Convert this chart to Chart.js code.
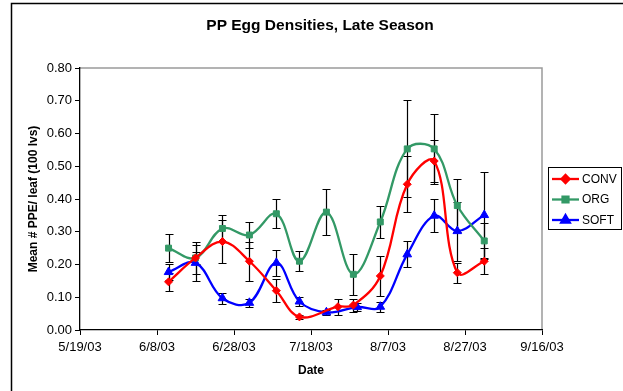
<!DOCTYPE html>
<html>
<head>
<meta charset="utf-8">
<script src="https://cdn.jsdelivr.net/npm/chart.js@4.4.0/dist/chart.umd.min.js"></script>
<style>
  html, body { margin: 0; padding: 0; background: #fff; }
</style>
</head>
<body>
<canvas id="eggChart" width="623" height="391"></canvas>
<script>
// values
const chartTitle = 'PP Egg Densities, Late Season'
const startDate = '5/19/03'
const xTickLabels = ['5/19/03', '6/8/03', '6/28/03', '7/18/03', '8/7/03', '8/27/03', '9/16/03']
const yTickStep = 0.1

const convDates = ['6/11/03', '6/18/03', '6/25/03', '7/2/03', '7/9/03', '7/15/03', '7/25/03', '7/29/03', '8/5/03', '8/12/03', '8/19/03', '8/25/03', '9/1/03']
const convMeans = [0.147, 0.22, 0.27, 0.21, 0.12, 0.04, 0.071, 0.076, 0.165, 0.445, 0.516, 0.175, 0.21]
const convErr = [0.027, 0.018, 0.065, 0.06, 0.035, 0.006, 0.025, 0.02, 0.06, 0.085, 0.065, 0.03, 0.04]

const orgDates = ['6/11/03', '6/18/03', '6/25/03', '7/2/03', '7/9/03', '7/15/03', '7/22/03', '7/29/03', '8/5/03', '8/12/03', '8/19/03', '8/25/03', '9/1/03']
const orgMeans = [0.25, 0.22, 0.31, 0.29, 0.355, 0.21, 0.36, 0.17, 0.33, 0.553, 0.553, 0.38, 0.272]
const orgErr = [0.042, 0.05, 0.04, 0.04, 0.045, 0.03, 0.07, 0.063, 0.05, 0.148, 0.108, 0.08, 0.055]

const softDates = ['6/11/03', '6/18/03', '6/25/03', '7/2/03', '7/9/03', '7/15/03', '7/22/03', '7/30/03', '8/5/03', '8/12/03', '8/19/03', '8/25/03', '9/1/03']
const softMeans = [0.177, 0.205, 0.097, 0.083, 0.205, 0.087, 0.054, 0.07, 0.071, 0.231, 0.349, 0.302, 0.351]
const softErr = [0.024, 0.055, 0.017, 0.013, 0.04, 0.013, 0.008, 0.012, 0.015, 0.04, 0.05, 0.09, 0.13]

const FONT = "'Liberation Sans', Arial, sans-serif"

// m/d/yy -> days since startDate
function dayNum (s) {
  const [m, d, y] = s.split('/').map(Number)
  return Date.UTC(2000 + y, m - 1, d) / 86400000
}
const day0 = dayNum(startDate)
function points (dates, means) {
  return dates.map((d, i) => ({ x: dayNum(d) - day0, y: means[i] }))
}

function series (label, dates, means, errs, color, style, radius) {
  return {
    label,
    data: points(dates, means),
    errors: errs,
    borderColor: color,
    backgroundColor: color,
    borderWidth: 2.3,
    pointStyle: style,
    pointRadius: radius,
    pointBorderWidth: 1,
    pointBackgroundColor: color,
    pointBorderColor: color,
    tension: 0.38
  }
}

// white page, outer frame, grey plot-area border, title over the whole frame
const frame = {
  id: 'frame',
  beforeDraw (chart) {
    const { ctx, chartArea: a } = chart
    ctx.save()
    ctx.fillStyle = '#fff'
    ctx.fillRect(0, 0, chart.width, chart.height)
    ctx.strokeStyle = '#000'
    ctx.lineWidth = 1.5
    ctx.strokeRect(11.5, 3.5, 700, 500)
    ctx.strokeStyle = '#9a9a9a'
    ctx.lineWidth = 1.5
    ctx.beginPath()
    ctx.moveTo(a.left, a.top)
    ctx.lineTo(a.right, a.top)
    ctx.lineTo(a.right, a.bottom)
    ctx.stroke()
    ctx.fillStyle = '#000'
    ctx.font = 'bold 15.5px ' + FONT
    ctx.textAlign = 'center'
    ctx.textBaseline = 'middle'
    ctx.fillText(chartTitle, 320, 26)
    ctx.restore()
  }
}

const errorBars = {
  id: 'errorBars',
  beforeDatasetsDraw (chart) {
    const { ctx, scales: { x, y } } = chart
    ctx.save()
    ctx.strokeStyle = '#000'
    ctx.lineWidth = 1.2
    chart.data.datasets.forEach(ds => {
      ds.data.forEach((p, i) => {
        const e = ds.errors[i]
        const px = Math.round(x.getPixelForValue(p.x)) + 0.5
        const top = Math.round(y.getPixelForValue(p.y + e)) + 0.5
        const bot = Math.round(y.getPixelForValue(p.y - e)) + 0.5
        ctx.beginPath()
        ctx.moveTo(px, top); ctx.lineTo(px, bot)
        ctx.moveTo(px - 4, top); ctx.lineTo(px + 4, top)
        ctx.moveTo(px - 4, bot); ctx.lineTo(px + 4, bot)
        ctx.stroke()
      })
    })
    ctx.restore()
  }
}

// boxed legend to the right like the Excel one
const boxLegend = {
  id: 'boxLegend',
  afterDraw (chart) {
    const { ctx } = chart
    ctx.save()
    ctx.fillStyle = '#fff'
    ctx.fillRect(548.5, 167.5, 73, 62)
    ctx.strokeStyle = '#000'
    ctx.lineWidth = 1
    ctx.strokeRect(548.5, 167.5, 73, 62)
    ctx.font = '12px ' + FONT
    ctx.textBaseline = 'middle'
    chart.data.datasets.forEach((ds, i) => {
      const ry = 179 + i * 20.5
      ctx.strokeStyle = ds.borderColor
      ctx.lineWidth = 2.3
      ctx.beginPath(); ctx.moveTo(552, ry); ctx.lineTo(579, ry); ctx.stroke()
      ctx.fillStyle = ds.borderColor
      Chart.helpers.drawPoint(ctx, { pointStyle: ds.pointStyle, radius: ds.pointRadius, borderWidth: 1, rotation: 0 }, 565.5, ry)
      ctx.fill()
      ctx.fillStyle = '#000'
      ctx.fillText(ds.label, 582, ry + 0.5)
    })
    ctx.restore()
  }
}

new Chart(document.getElementById('eggChart'), {
  type: 'line',
  data: {
    datasets: [
      series('CONV', convDates, convMeans, convErr, '#ff0000', 'rectRot', 4),
      series('ORG', orgDates, orgMeans, orgErr, '#339966', 'rect', 4.2),
      series('SOFT', softDates, softMeans, softErr, '#0000ff', 'triangle', 5)
    ]
  },
  options: {
    responsive: false,
    animation: false,
    layout: { padding: { left: 0, right: 81, top: 68, bottom: 0 } },
    plugins: {
      legend: { display: false },
      tooltip: { enabled: false },
      title: { display: false }
    },
    scales: {
      x: {
        type: 'linear',
        min: 0,
        max: 120,
        afterFit (s) { s.height = 61 },
        grid: { drawOnChartArea: false, color: '#000', tickLength: 5 },
        border: { color: '#000', width: 1.3 },
        ticks: {
          stepSize: 20,
          autoSkip: false,
          maxRotation: 0,
          padding: 5,
          color: '#000',
          font: { family: FONT, size: 13 },
          callback: v => xTickLabels[Math.round(v / 20)]
        },
        title: {
          display: true,
          text: 'Date',
          color: '#000',
          font: { family: FONT, size: 12, weight: 'bold' },
          padding: { top: 0, bottom: 13 }
        }
      },
      y: {
        min: 0,
        max: 0.8,
        afterFit (s) { s.width = 80 },
        grid: { drawOnChartArea: false, color: '#000', tickLength: 5 },
        border: { color: '#000', width: 1.3 },
        ticks: {
          stepSize: yTickStep,
          padding: 3,
          color: '#000',
          font: { family: FONT, size: 13 },
          callback: v => v.toFixed(2)
        },
        title: {
          display: true,
          text: 'Mean # PPE/ leaf (100 lvs)',
          color: '#000',
          font: { family: FONT, size: 12, weight: 'bold' },
          padding: { top: 26, bottom: 0 }
        }
      }
    }
  },
  plugins: [frame, errorBars, boxLegend]
})
</script>
</body>
</html>
